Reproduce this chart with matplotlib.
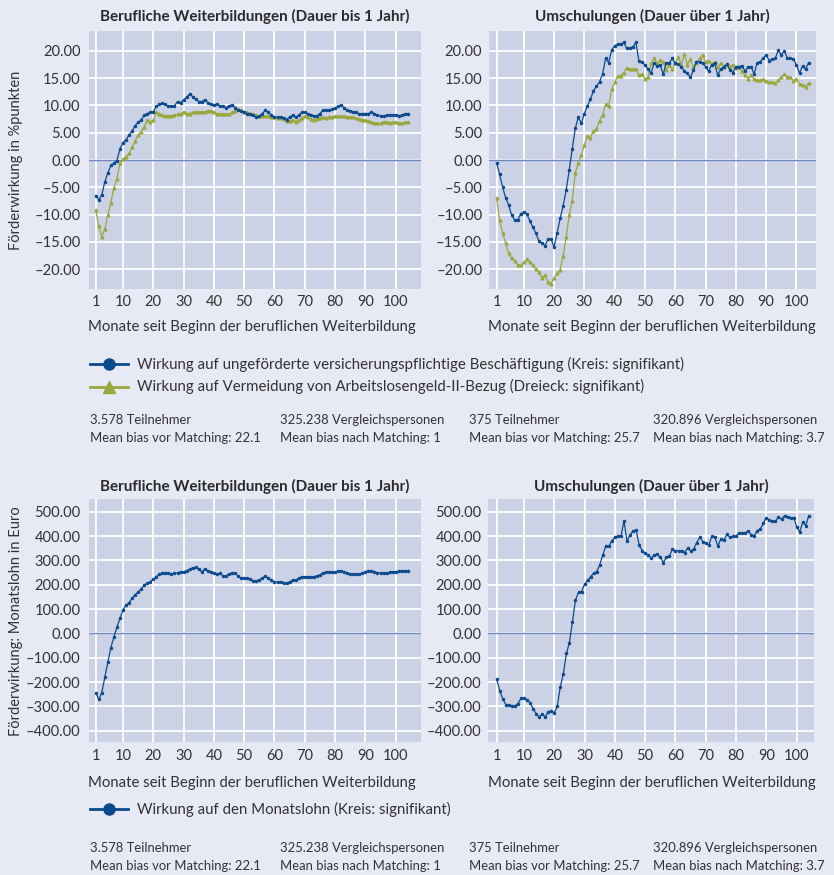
import matplotlib
matplotlib.use("Agg")
import matplotlib.pyplot as plt
from matplotlib.lines import Line2D

# ---------------- data ----------------
months = list(range(1, 105))

wb_beschaeftigung = [
    -6.5, -7.3, -6.4, -4.0, -2.4, -1.0, -0.6, -0.1, 2.0, 3.2,
    3.7, 4.6, 5.3, 6.3, 6.9, 7.3, 8.2, 8.5, 8.7, 8.8,
    9.8, 10.2, 10.4, 10.2, 9.8, 9.8, 9.9, 10.7, 10.5, 11.0,
    11.5, 12.1, 11.6, 11.1, 10.7, 10.7, 11.0, 10.5, 10.2, 10.1,
    10.2, 9.9, 9.9, 9.6, 9.9, 10.1, 9.6, 9.1, 9.0, 8.7,
    8.5, 8.5, 8.2, 7.8, 8.0, 8.5, 9.1, 8.7, 8.2, 7.9,
    7.8, 7.8, 7.6, 7.4, 7.9, 8.2, 7.8, 8.2, 8.7, 8.7,
    8.4, 8.2, 8.1, 8.1, 8.5, 9.1, 9.1, 9.1, 9.3, 9.5,
    9.8, 10.1, 9.5, 9.1, 9.0, 8.8, 8.7, 8.4, 8.5, 8.5,
    8.5, 8.7, 8.5, 8.2, 8.1, 8.0, 8.2, 8.2, 8.2, 8.2,
    8.1, 8.2, 8.4, 8.5]

wb_alg2 = [
    -9.1, -12.1, -14.0, -12.7, -10.1, -7.8, -5.1, -3.4, -0.6, 0.1,
    0.6, 1.2, 2.3, 3.4, 4.6, 5.1, 6.1, 7.3, 7.0, 7.3,
    8.7, 8.5, 8.2, 8.1, 8.1, 8.1, 8.2, 8.4, 8.5, 8.8,
    8.5, 8.5, 8.7, 8.8, 8.8, 8.8, 8.8, 9.0, 9.0, 8.8,
    8.5, 8.4, 8.4, 8.4, 8.4, 8.7, 9.0, 9.3, 9.1, 8.8,
    8.7, 8.5, 8.4, 8.2, 8.0, 8.0, 8.0, 8.1, 7.9, 7.8,
    7.6, 7.6, 7.5, 7.2, 7.1, 7.3, 7.0, 7.3, 7.7, 8.0,
    7.8, 7.5, 7.4, 7.5, 7.7, 7.8, 7.7, 7.9, 7.9, 8.0,
    8.1, 8.0, 8.0, 7.9, 7.9, 7.8, 7.6, 7.5, 7.4, 7.3,
    7.2, 7.0, 6.8, 6.7, 6.7, 7.0, 7.0, 6.8, 6.9, 6.9,
    6.8, 6.7, 6.9, 7.0]

us_beschaeftigung = [
    -0.5, -2.6, -4.9, -6.9, -8.2, -10.1, -11.0, -11.0, -9.8, -9.6,
    -9.9, -11.1, -12.3, -13.4, -14.8, -15.2, -15.7, -14.5, -14.5, -15.9,
    -13.4, -10.7, -8.4, -5.5, -1.8, 2.0, 5.8, 7.8, 6.7, 8.5,
    9.9, 11.1, 12.7, 13.5, 14.3, 15.7, 18.6, 17.8, 20.1, 20.9,
    21.2, 21.2, 21.5, 20.4, 20.5, 20.7, 21.5, 18.1, 17.9, 17.4,
    16.6, 15.9, 17.7, 17.2, 17.4, 15.7, 17.7, 17.7, 18.6, 17.7,
    17.6, 17.0, 16.3, 15.9, 15.1, 16.5, 18.0, 18.0, 17.7, 17.1,
    16.2, 17.4, 17.7, 15.5, 16.6, 17.1, 17.5, 16.5, 16.0, 17.1,
    17.1, 17.2, 16.3, 17.0, 17.1, 15.7, 17.8, 18.0, 18.6, 19.2,
    18.2, 18.4, 18.6, 20.1, 19.2, 20.0, 18.6, 18.6, 18.5, 17.4,
    15.9, 17.2, 16.6, 17.8]

us_alg2 = [
    -6.9, -11.0, -13.3, -15.2, -17.1, -18.0, -18.5, -19.2, -19.3, -18.7,
    -18.2, -18.6, -19.2, -20.0, -20.4, -21.6, -21.0, -22.3, -22.6, -21.6,
    -20.7, -20.1, -17.5, -14.1, -10.1, -7.5, -2.4, -0.6, 0.9, 2.7,
    4.4, 4.1, 5.3, 5.7, 7.2, 8.2, 10.2, 9.8, 12.9, 14.2,
    15.4, 15.4, 16.0, 16.9, 16.6, 16.6, 16.6, 15.5, 15.7, 14.8,
    15.1, 17.7, 18.6, 17.7, 18.3, 18.0, 16.5, 17.4, 16.6, 17.7,
    18.9, 17.4, 19.4, 17.4, 18.4, 17.0, 17.8, 18.6, 19.2, 18.0,
    18.2, 17.6, 17.9, 17.0, 17.7, 17.1, 17.5, 17.1, 17.4, 16.8,
    17.0, 16.2, 15.5, 14.9, 15.5, 14.9, 14.6, 14.6, 14.8, 14.5,
    14.2, 14.2, 14.1, 14.6, 15.2, 15.7, 15.2, 15.1, 14.5, 14.9,
    13.9, 13.7, 13.4, 14.1]

wb_lohn = [
    -244, -271, -244, -181, -119, -58, -15, 25, 62, 96,
    116, 126, 144, 158, 171, 181, 199, 205, 212, 222,
    233, 242, 249, 247, 247, 242, 247, 249, 253, 253,
    258, 263, 270, 271, 263, 253, 264, 258, 253, 247,
    244, 247, 236, 236, 244, 249, 247, 236, 226, 226,
    226, 222, 215, 215, 219, 226, 236, 226, 219, 212,
    210, 210, 205, 205, 212, 219, 219, 226, 233, 233,
    233, 233, 233, 236, 240, 249, 251, 251, 251, 251,
    256, 258, 253, 247, 244, 242, 242, 242, 247, 253,
    258, 258, 253, 249, 247, 247, 249, 251, 253, 253,
    256, 258, 256, 258]

us_lohn = [
    -188, -236, -269, -292, -294, -299, -299, -288, -267, -265,
    -272, -284, -309, -329, -343, -332, -343, -322, -318, -326,
    -299, -219, -165, -82, -38, 48, 137, 169, 171, 202,
    219, 233, 247, 254, 281, 322, 359, 357, 381, 394,
    401, 398, 462, 380, 405, 421, 425, 364, 340, 329,
    322, 309, 322, 325, 313, 291, 313, 318, 346, 340,
    339, 340, 332, 350, 339, 346, 373, 394, 377, 370,
    364, 398, 394, 359, 388, 384, 407, 394, 398, 398,
    414, 412, 412, 421, 405, 401, 422, 428, 453, 476,
    464, 460, 460, 477, 469, 484, 480, 473, 476, 439,
    416, 457, 443, 484]

x_ticks = [1, 10, 20, 30, 40, 50, 60, 70, 80, 90, 100]
y_ticks_pct = [-20, -15, -10, -5, 0, 5, 10, 15, 20]
y_ticks_eur = [-400, -300, -200, -100, 0, 100, 200, 300, 400, 500]

title_wb = "Berufliche Weiterbildungen (Dauer bis 1 Jahr)"
title_us = "Umschulungen (Dauer über 1 Jahr)"
xlabel = "Monate seit Beginn der beruflichen Weiterbildung"
ylabel_top = "Förderwirkung in %punkten"
ylabel_bot = "Förderwirkung: Monatslohn in Euro"
legend_top = ["Wirkung auf ungeförderte versicherungspflichtige Beschäftigung (Kreis: signifikant)",
              "Wirkung auf Vermeidung von Arbeitslosengeld-II-Bezug (Dreieck: signifikant)"]
legend_bot = ["Wirkung auf den Monatslohn (Kreis: signifikant)"]
stats_rows = [["3.578 Teilnehmer", "325.238 Vergleichspersonen", "375 Teilnehmer", "320.896 Vergleichspersonen"],
              ["Mean bias vor Matching: 22.1", "Mean bias nach Matching: 1",
               "Mean bias vor Matching: 25.7", "Mean bias nach Matching: 3.7"]]

# ---------------- style ----------------
BG = "#e7e9f4"
FACE = "#cbd2e5"
BLUE = "#0c4a8e"
GREEN = "#9aa73b"
ZERO = "#6f86c2"
TXT = "#333333"
FONT = ["Lato", "DejaVu Sans"]

plt.rcParams["font.family"] = FONT

W, H = 834, 875
fig = plt.figure(figsize=(W / 100, H / 100), dpi=100, facecolor=BG)


def px_axes(x0, y0, x1, y1):
    return fig.add_axes([x0 / W, 1 - y1 / H, (x1 - x0) / W, (y1 - y0) / H])


def fmt(v):
    s = f"{abs(v):.2f}"
    return ("–" + s) if v < 0 else s


def style(ax, x0, x1, m1px, ylim, yticks, title, title_pad, xpad, ypad):
    ppu = 3.03
    ax.set_facecolor(FACE)
    ax.set_xlim(1 - (m1px - x0) / ppu, 1 + (x1 - m1px) / ppu)
    ax.set_ylim(*ylim)
    ax.set_xticks(x_ticks)
    ax.set_xticklabels([str(t) for t in x_ticks])
    ax.set_yticks(yticks)
    ax.set_yticklabels([fmt(t) for t in yticks])
    ax.grid(True, color="white", lw=1.3)
    ax.set_axisbelow(True)
    for s in ax.spines.values():
        s.set_visible(False)
    ax.tick_params(axis="x", length=0, pad=xpad, labelsize=10.5, labelcolor=TXT)
    ax.tick_params(axis="y", length=0, pad=ypad, labelsize=10.5, labelcolor=TXT)
    ax.axhline(0, color=ZERO, lw=1.0, zorder=1.5)
    ax.set_title(title, fontsize=11, fontweight="bold", color="#2a2a2a", pad=title_pad)


def plot_blue(ax, y):
    ax.plot(months, y, color=BLUE, lw=0.9, marker="o", ms=1.5, zorder=3)


def plot_green(ax, y):
    ax.plot(months, y, color=GREEN, lw=0.9, marker="^", ms=2.0, zorder=2.5)


# Top row
ax1 = px_axes(89, 31, 421, 289)
style(ax1, 89, 421, 95.7, (-23.6, 23.6), y_ticks_pct, title_wb, 7.5, 4.5, 6)
plot_green(ax1, wb_alg2)
plot_blue(ax1, wb_beschaeftigung)

ax2 = px_axes(488.5, 31, 816, 289)
style(ax2, 488.5, 816, 496.5, (-23.6, 23.6), y_ticks_pct, title_us, 7.5, 4.5, 4.5)
plot_green(ax2, us_alg2)
plot_blue(ax2, us_beschaeftigung)

# Bottom row
ax3 = px_axes(89, 499, 421, 742)
style(ax3, 89, 421, 95.7, (-446, 552), y_ticks_eur, title_wb, 6, 5, 6)
plot_blue(ax3, wb_lohn)

ax4 = px_axes(488, 499, 814, 742)
style(ax4, 488, 814, 496.7, (-446, 552), y_ticks_eur, title_us, 6, 5, 4.5)
plot_blue(ax4, us_lohn)

# x labels
for cx, by in [(252, 331.5), (652, 331.5), (252, 787), (652, 787)]:
    fig.text(cx / W, 1 - by / H, xlabel, ha="center", va="baseline", fontsize=10.7, color=TXT)

# y labels
fig.text(16 / W, 1 - 160 / H, ylabel_top, rotation=90, ha="center", va="center", fontsize=10.5, color=TXT)
fig.text(16 / W, 1 - 621 / H, ylabel_bot, rotation=90, ha="center", va="center", fontsize=10.5, color=TXT)


# legends (manual, figure pixels)
def legend_entry(ypx, color, marker, ms, label):
    y = 1 - ypx / H
    fig.add_artist(Line2D([90 / W, 109 / W, 128 / W], [y, y, y], transform=fig.transFigure,
                          color=color, lw=2.0, marker=marker, ms=ms, markevery=[1]))
    fig.text(137 / W, y, label, ha="left", va="center", fontsize=10.8, color=TXT)


legend_entry(364, BLUE, "o", 8, legend_top[0])
legend_entry(386.5, GREEN, "^", 8, legend_top[1])
legend_entry(809, BLUE, "o", 8, legend_bot[0])

# stats text
cols = [90, 280, 469, 653]
for y0 in (420, 848):
    for r, row in enumerate(stats_rows):
        for cx, t in zip(cols, row):
            fig.text(cx / W, 1 - (y0 + r * 18.5) / H, t, ha="left", va="center", fontsize=9.4, color=TXT)

fig.savefig("out.png", dpi=100, facecolor=BG)
